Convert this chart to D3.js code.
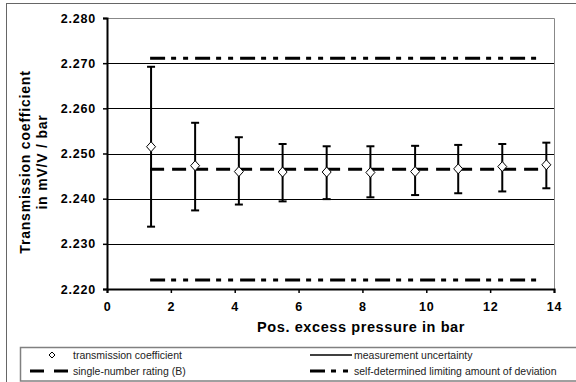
<!DOCTYPE html>
<html>
<head>
<meta charset="utf-8">
<script src="https://cdn.jsdelivr.net/npm/d3@7"></script>
<style>
  body { margin: 0; background: #fff; }
  svg { display: block; font-family: Arial, "Liberation Sans", sans-serif; }
</style>
</head>
<body>
<script>
// pressure (bar) and measured transmission coefficient with uncertainty
var pressure = [1.38, 2.76, 4.13, 5.5, 6.88, 8.25, 9.65, 11.0, 12.38, 13.76];
var coefficient = [2.2515, 2.2473, 2.2460, 2.2459, 2.2459, 2.2458, 2.2460, 2.2466, 2.2471, 2.2475];
var upper = [2.2692, 2.2568, 2.2536, 2.2521, 2.2516, 2.2516, 2.2517, 2.2519, 2.2521, 2.2524];
var lower = [2.2338, 2.2374, 2.2387, 2.2394, 2.2399, 2.2403, 2.2408, 2.2412, 2.2416, 2.2423];

var ratingB = 2.2465;
var limitHigh = 2.2711;
var limitLow = 2.2220;
var lineRange = [1.35, 13.55];

var xTicks = [0, 2, 4, 6, 8, 10, 12, 14];
var yTicks = [2.220, 2.230, 2.240, 2.250, 2.260, 2.270, 2.280];

var width = 576, height = 382;
var plotL = 107, plotR = 554, plotT = 18, plotB = 289;

var svg = d3.select('body').append('svg')
  .attr('width', width)
  .attr('height', height);

var x = d3.scaleLinear().domain([0, 14]).range([plotL, plotR]);
var y = d3.scaleLinear().domain([2.220, 2.280]).range([plotB, plotT]);

// outer frame (runs off the page to the right and bottom)
svg.append('rect')
  .attr('x', 6.5).attr('y', 3.5)
  .attr('width', 700).attr('height', 500)
  .attr('fill', 'none').attr('stroke', '#666').attr('stroke-width', 1);

// plot area border (top/right)
svg.append('path')
  .attr('d', 'M' + plotL + ',' + (plotT + 0.5) + 'H' + (plotR + 0.5) + 'V' + plotB)
  .attr('fill', 'none').attr('stroke', '#888').attr('stroke-width', 1);

// gridlines
svg.append('g').selectAll('line')
  .data(yTicks.filter(function (d) { return d > 2.2205 && d < 2.2795; }))
  .enter().append('line')
  .attr('x1', plotL).attr('x2', plotR)
  .attr('y1', function (d) { return Math.round(y(d)) + 0.5; })
  .attr('y2', function (d) { return Math.round(y(d)) + 0.5; })
  .attr('stroke', '#000').attr('stroke-width', 1);

// axes
var yAxis = svg.append('g')
  .attr('transform', 'translate(' + plotL + ',0)')
  .call(d3.axisLeft(y).tickValues(yTicks).tickFormat(d3.format('.3f')).tickSize(4).tickPadding(7));
var xAxis = svg.append('g')
  .attr('transform', 'translate(0,' + plotB + ')')
  .call(d3.axisBottom(x).tickValues(xTicks).tickSize(4).tickPadding(9));

[yAxis, xAxis].forEach(function (ax) {
  ax.select('.domain').attr('stroke', '#000').attr('stroke-width', 2);
  ax.selectAll('.tick line').attr('stroke', '#000').attr('stroke-width', 1.5);
  ax.selectAll('.tick text')
    .attr('fill', '#000')
    .style('font-size', '12.5px')
    .style('font-weight', 'bold')
    .style('letter-spacing', '0.8px')
    .style('font-family', 'Arial, "Liberation Sans", sans-serif');
});

// reference lines
var limitLine = d3.line()
  .x(function (d) { return x(d[0]); })
  .y(function (d) { return y(d[1]); });

[limitHigh, limitLow].forEach(function (v) {
  svg.append('path')
    .attr('d', limitLine([[lineRange[0], v], [lineRange[1], v]]))
    .attr('stroke', '#000').attr('stroke-width', 3)
    .attr('stroke-dasharray', '15,6,5,7,5,7')
    .attr('fill', 'none');
});

svg.append('path')
  .attr('d', limitLine([[lineRange[0], ratingB], [lineRange[1], ratingB]]))
  .attr('stroke', '#000').attr('stroke-width', 3)
  .attr('stroke-dasharray', '14,8')
  .attr('fill', 'none');

// error bars
var pts = pressure.map(function (p, i) {
  return { x: p, v: coefficient[i], hi: upper[i], lo: lower[i] };
});

var bars = svg.append('g').selectAll('g').data(pts).enter().append('g');
bars.append('line')
  .attr('x1', function (d) { return x(d.x); })
  .attr('x2', function (d) { return x(d.x); })
  .attr('y1', function (d) { return y(d.hi); })
  .attr('y2', function (d) { return y(d.lo); })
  .attr('stroke', '#000').attr('stroke-width', 2);
bars.selectAll('.cap')
  .data(function (d) { return [[d.x, d.hi], [d.x, d.lo]]; })
  .enter().append('line')
  .attr('x1', function (d) { return x(d[0]) - 4; })
  .attr('x2', function (d) { return x(d[0]) + 4; })
  .attr('y1', function (d) { return y(d[1]); })
  .attr('y2', function (d) { return y(d[1]); })
  .attr('stroke', '#000').attr('stroke-width', 2);

// diamonds
var diamond = 'M0,-5L4.5,0L0,5L-4.5,0Z';
svg.append('g').selectAll('path').data(pts).enter().append('path')
  .attr('d', diamond)
  .attr('transform', function (d) { return 'translate(' + x(d.x) + ',' + y(d.v) + ')'; })
  .attr('fill', '#fff').attr('stroke', '#000').attr('stroke-width', 1);

// axis titles
svg.append('text')
  .attr('x', 361).attr('y', 332)
  .attr('text-anchor', 'middle')
  .style('font-size', '14.5px').style('font-weight', 'bold')
  .style('letter-spacing', '0.6px')
  .text('Pos. excess pressure in bar');

var yt = svg.append('text')
  .attr('transform', 'translate(0,162) rotate(-90)')
  .attr('text-anchor', 'middle')
  .style('font-size', '14px').style('font-weight', 'bold')
  .style('letter-spacing', '0.8px');
yt.append('tspan').attr('x', 0).attr('y', 30).text('Transmission coefficient');
yt.append('tspan').attr('x', 0).attr('y', 47).text('in mV/V / bar');

// legend
var lg = svg.append('g');
lg.append('rect')
  .attr('x', 20.5).attr('y', 347.5).attr('width', 700).attr('height', 33.5)
  .attr('fill', '#fff').attr('stroke', '#808080').attr('stroke-width', 1.5);

lg.append('path').attr('d', 'M0,-3L3,0L0,3L-3,0Z')
  .attr('transform', 'translate(52,355)')
  .attr('fill', '#fff').attr('stroke', '#000').attr('stroke-width', 1);
lg.append('line').attr('x1', 30).attr('x2', 68).attr('y1', 371).attr('y2', 371)
  .attr('stroke', '#000').attr('stroke-width', 3).attr('stroke-dasharray', '14,10');
lg.append('line').attr('x1', 310).attr('x2', 352).attr('y1', 355).attr('y2', 355)
  .attr('stroke', '#000').attr('stroke-width', 1.5);
lg.append('line').attr('x1', 310).attr('x2', 350).attr('y1', 371).attr('y2', 371)
  .attr('stroke', '#000').attr('stroke-width', 3).attr('stroke-dasharray', '15,6,5,7,5,7');

var legendText = [
  ['transmission coefficient', 73, 355],
  ['single-number rating (B)', 73, 371],
  ['measurement uncertainty', 354, 355],
  ['self-determined limiting amount of deviation', 354, 371]
];
lg.selectAll('text.lt').data(legendText).enter().append('text')
  .attr('x', function (d) { return d[1]; })
  .attr('y', function (d) { return d[2]; })
  .attr('dy', '0.35em')
  .style('font-size', '10.5px').attr('fill', '#222')
  .text(function (d) { return d[0]; });
</script>
</body>
</html>
